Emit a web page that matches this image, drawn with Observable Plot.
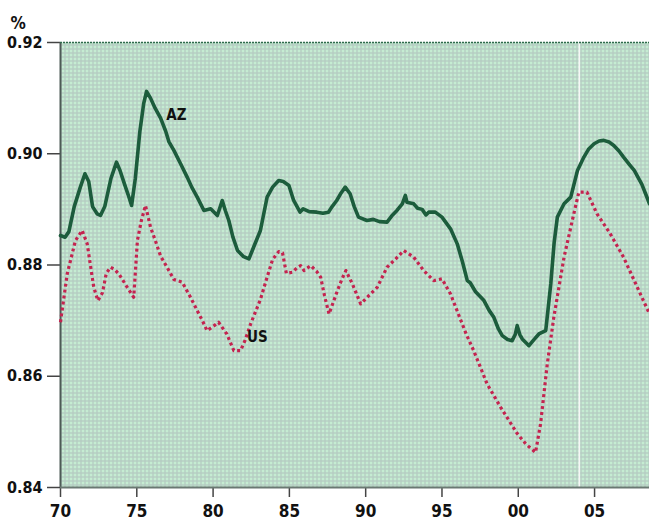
<!DOCTYPE html>
<html>
<head>
<meta charset="utf-8">
<script src="https://cdn.jsdelivr.net/npm/d3@7"></script>
<script src="https://cdn.jsdelivr.net/npm/@observablehq/plot@0.6"></script>
<style>
  html, body { margin: 0; padding: 0; background: #ffffff; }
  #chart svg { display: block; }
</style>
</head>
<body>
<div id="chart"></div>
<script>
// ---- Data ----
const azYear = [1970.0,1970.3,1970.55,1970.9,1971.3,1971.6,1971.85,1972.1,1972.4,1972.62,1972.9,1973.3,1973.67,1973.9,1974.2,1974.45,1974.66,1974.9,1975.2,1975.45,1975.64,1975.9,1976.2,1976.56,1976.9,1977.1,1977.43,1977.87,1978.3,1978.6,1978.96,1979.4,1979.84,1980.28,1980.6,1980.8,1981.03,1981.3,1981.6,1982.0,1982.35,1982.7,1983.1,1983.54,1983.9,1984.3,1984.6,1984.97,1985.28,1985.7,1985.9,1986.3,1986.8,1987.2,1987.56,1987.8,1988.1,1988.4,1988.66,1988.98,1989.25,1989.53,1990.08,1990.5,1990.9,1991.4,1991.7,1992.05,1992.4,1992.6,1992.7,1993.15,1993.4,1993.7,1993.95,1994.13,1994.56,1995.0,1995.56,1996.0,1996.35,1996.66,1996.85,1997.2,1997.75,1998.1,1998.4,1998.7,1998.95,1999.3,1999.6,1999.8,1999.93,2000.1,2000.26,2000.7,2001.0,2001.35,2001.8,2001.95,2002.13,2002.35,2002.56,2003.0,2003.44,2003.65,2003.88,2004.3,2004.6,2004.97,2005.3,2005.6,2005.95,2006.26,2006.6,2006.9,2007.3,2007.6,2008.1,2008.6];
const azValue = [0.8853,0.8850,0.8860,0.8905,0.8940,0.8964,0.8950,0.8905,0.8892,0.8889,0.8905,0.8955,0.8985,0.8970,0.8945,0.8925,0.8907,0.8955,0.9040,0.9090,0.9112,0.9100,0.9082,0.9064,0.9040,0.9022,0.9006,0.8982,0.8958,0.8940,0.8922,0.8898,0.8901,0.8889,0.8916,0.8898,0.8880,0.8850,0.8826,0.8815,0.8811,0.8835,0.8862,0.8922,0.8940,0.8952,0.8950,0.8943,0.8916,0.8895,0.8901,0.8896,0.8895,0.8893,0.8895,0.8905,0.8916,0.8930,0.8940,0.8928,0.8905,0.8886,0.8880,0.8882,0.8878,0.8877,0.8888,0.8898,0.8910,0.8925,0.8913,0.8910,0.8902,0.8900,0.8890,0.8895,0.8895,0.8886,0.8865,0.8838,0.8805,0.8772,0.8768,0.8752,0.8736,0.8718,0.8706,0.8685,0.8673,0.8666,0.8664,0.8675,0.8691,0.8675,0.8667,0.8655,0.8665,0.8676,0.8682,0.8720,0.8766,0.8840,0.8886,0.8910,0.8922,0.8945,0.8970,0.8994,0.9008,0.9018,0.9023,0.9024,0.9021,0.9015,0.9005,0.8994,0.8980,0.8970,0.8945,0.8910];

const usYear = [1970.0,1970.44,1970.98,1971.42,1971.75,1972.18,1972.45,1972.75,1973.0,1973.28,1973.55,1973.82,1974.1,1974.37,1974.8,1975.04,1975.3,1975.57,1975.9,1976.2,1976.56,1977.0,1977.43,1977.98,1978.52,1978.96,1979.3,1979.6,1979.93,1980.36,1980.9,1981.36,1981.8,1982.1,1982.46,1983.1,1983.54,1983.9,1984.3,1984.55,1984.8,1985.2,1985.5,1985.74,1985.96,1986.4,1986.8,1987.05,1987.3,1987.6,1987.9,1988.15,1988.45,1988.7,1989.13,1989.67,1990.1,1990.76,1991.4,1991.97,1992.5,1993.15,1993.8,1994.46,1995.0,1995.56,1996.2,1996.6,1997.08,1997.96,1998.85,1999.93,2000.5,2001.13,2001.46,2001.9,2002.33,2003.0,2003.64,2003.97,2004.5,2005.16,2006.03,2006.9,2007.8,2008.6];
const usValue = [0.8697,0.8784,0.8844,0.8862,0.8838,0.8760,0.8736,0.8750,0.8785,0.8796,0.8792,0.8784,0.8772,0.8760,0.8742,0.8844,0.8880,0.8907,0.8868,0.8845,0.8816,0.8795,0.8774,0.8769,0.8742,0.8718,0.8700,0.8682,0.8688,0.8697,0.8676,0.8646,0.8646,0.8665,0.8694,0.8738,0.8778,0.8810,0.8824,0.8822,0.8785,0.8787,0.8795,0.8799,0.8790,0.8799,0.8788,0.8778,0.8745,0.8712,0.8735,0.8754,0.8775,0.8790,0.8766,0.8730,0.8742,0.8760,0.8796,0.8811,0.8826,0.8814,0.8790,0.8772,0.8775,0.8748,0.8703,0.8675,0.8646,0.8586,0.8544,0.8497,0.8478,0.8463,0.8514,0.8622,0.8706,0.8814,0.8892,0.8931,0.8931,0.8892,0.8856,0.8814,0.8760,0.8712];

const xTicks = [1970, 1975, 1980, 1985, 1990, 1995, 2000, 2005];
const yTicks = [0.84, 0.86, 0.88, 0.90, 0.92];
const seriesLabels = ["AZ", "US"];
const labelYear = [1977.6, 1982.9];
const labelValue = [0.9069, 0.8670];
const markerYear = [2004];
const unitLabel = "%";

// ---- Tables built from the arrays ----
const az = azYear.map((x, i) => ({x, y: azValue[i]}));
const us = usYear.map((x, i) => ({x, y: usValue[i]}));
const labels = seriesLabels.map((t, i) => ({t, x: labelYear[i], y: labelValue[i]}));

const FONT = "'DejaVu Sans Condensed', 'DejaVu Sans', sans-serif";
const fmtX = d => String(d % 100).padStart(2, "0");

const plot = Plot.plot({
  width: 649,
  height: 521,
  marginLeft: 60,
  marginRight: 0,
  marginTop: 42,
  marginBottom: 34,
  style: {fontFamily: FONT, fontStretch: "condensed", fontWeight: "bold", fontSize: "16px", color: "#111", background: "#ffffff"},
  x: {domain: [1970, 2008.6], ticks: xTicks, tickFormat: fmtX},
  y: {domain: [0.84, 0.92], ticks: yTicks, tickFormat: d3.format(".2f")},
  marks: [
    Plot.frame({fill: "url(#bgdots)", stroke: "none"}),
    Plot.ruleX(markerYear, {stroke: "#f6f6f6", strokeWidth: 1.6}),
    Plot.axisX({ticks: xTicks, tickFormat: fmtX, tickSize: 10, tickPadding: 7, stroke: "#444", strokeWidth: 1.5, label: null, fontSize: 17}),
    Plot.axisY({ticks: yTicks, tickFormat: d3.format(".2f"), tickSize: 13, tickPadding: 5, stroke: "#444", strokeWidth: 1.5, label: null, fontSize: 16}),
    Plot.ruleX([1970], {stroke: "#4d5a56", strokeWidth: 2}),
    Plot.ruleY([0.84], {stroke: "#6a7872", strokeWidth: 2}),
    Plot.ruleY([0.92], {stroke: "#2f6a4c", strokeWidth: 1.6, strokeDasharray: "2,1"}),
    Plot.line(us, {x: "x", y: "y", stroke: "#c4234f", strokeWidth: 3.2, strokeDasharray: "3,3", strokeLinecap: "butt"}),
    Plot.line(az, {x: "x", y: "y", stroke: "#1c5c3c", strokeWidth: 3.6, strokeLinejoin: "round"}),
    Plot.text(labels, {x: "x", y: "y", text: "t", fontSize: 15, fontWeight: "bold", fill: "#111"}),
    Plot.text([unitLabel], {frameAnchor: "top-left", dx: -50, dy: -26, textAnchor: "start", fontSize: 17, fontWeight: "bold", fill: "#111"})
  ]
});

// pattern for the dotted green background
const ns = "http://www.w3.org/2000/svg";
const defs = document.createElementNS(ns, "defs");
defs.innerHTML = `
  <pattern id="bgdots" x="0" y="0" width="4" height="4" patternUnits="userSpaceOnUse">
    <rect width="4" height="4" fill="#bfe8cb"/>
    <rect x="0" y="0" width="4" height="1" fill="#b4c6c2"/>
    <rect x="0" y="0" width="1" height="4" fill="#b4c6c2"/>
    <rect x="2" y="2" width="1" height="1" fill="#d8f7e8"/>
  </pattern>`;
plot.insertBefore(defs, plot.firstChild);

document.getElementById("chart").appendChild(plot);
</script>
</body>
</html>
